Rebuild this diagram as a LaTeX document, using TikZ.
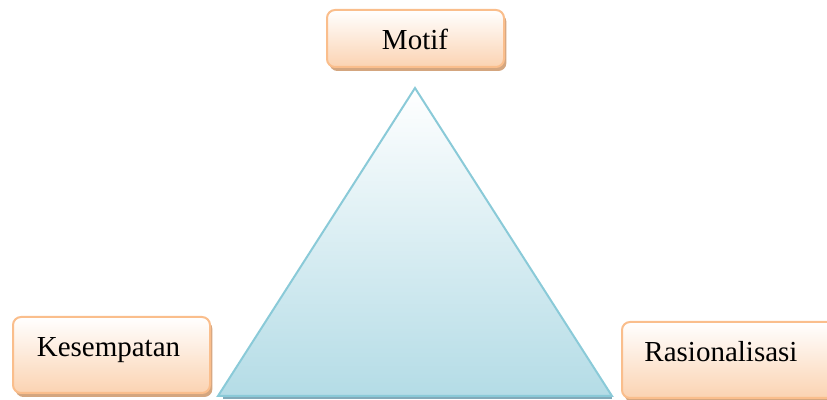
\documentclass[tikz,border=0pt]{standalone}
\usepackage{fontspec}
\setmainfont{Liberation Serif}
\usetikzlibrary{shadows}
\definecolor{peach}{RGB}{251,211,178}
\definecolor{peachline}{RGB}{250,190,140}
\definecolor{peachshadow}{RGB}{205,150,105}
\definecolor{aqua}{RGB}{180,220,230}
\definecolor{aqualine}{RGB}{138,202,216}
\definecolor{aquashadow}{RGB}{130,170,185}
\tikzset{kotak/.style = {shape = rectangle, rounded corners = 4pt, draw = peachline, line width = 1pt, top color = white, bottom color = peach, drop shadow = {shadow xshift = 1.2pt, shadow yshift = -2pt, fill = peachshadow, opacity = 0.85}}}
\tikzset{tulisan/.style = {font = \fontsize{14.5}{17}\selectfont, inner sep = 0pt, anchor = base}}
\tikzset{segitiga/.style = {draw = aqualine, line width = 1pt, top color = white, bottom color = aqua}}

\begin{document}
\begin{tikzpicture}[x = 0.5pt, y = -0.5pt]
			\useasboundingbox (0, 0) rectangle (827, 400);
			\clip (0, 0) rectangle (827, 400);

			\coordinate (puncak) at (415, 88);
			\coordinate (kiri) at (218, 396);
			\coordinate (kanan) at (612, 396);

			\draw[aquashadow, line width = 1.2pt] (kiri) ++(5, 2) -- ++(389, 0);
			\draw[segitiga] (puncak) -- (kiri) -- (kanan) -- cycle;

			\node[kotak, minimum width = 88.5pt, minimum height = 28.5pt] (kotakmotif) at (415.5, 38.5) {};
			\node[kotak, minimum width = 98.5pt, minimum height = 38pt] (kotakkesempatan) at (111.5, 355) {};
			\node[kotak, minimum width = 109pt, minimum height = 38pt] (kotakrasional) at (731, 360) {};

			\node[tulisan] (motif) at (415, 50) {Motif};
			\node[tulisan] (kesempatan) at (108.5, 357) {Kesempatan};
			\node[tulisan] (rasional) at (721, 362) {Rasionalisasi};
		\end{tikzpicture}
\end{document}
